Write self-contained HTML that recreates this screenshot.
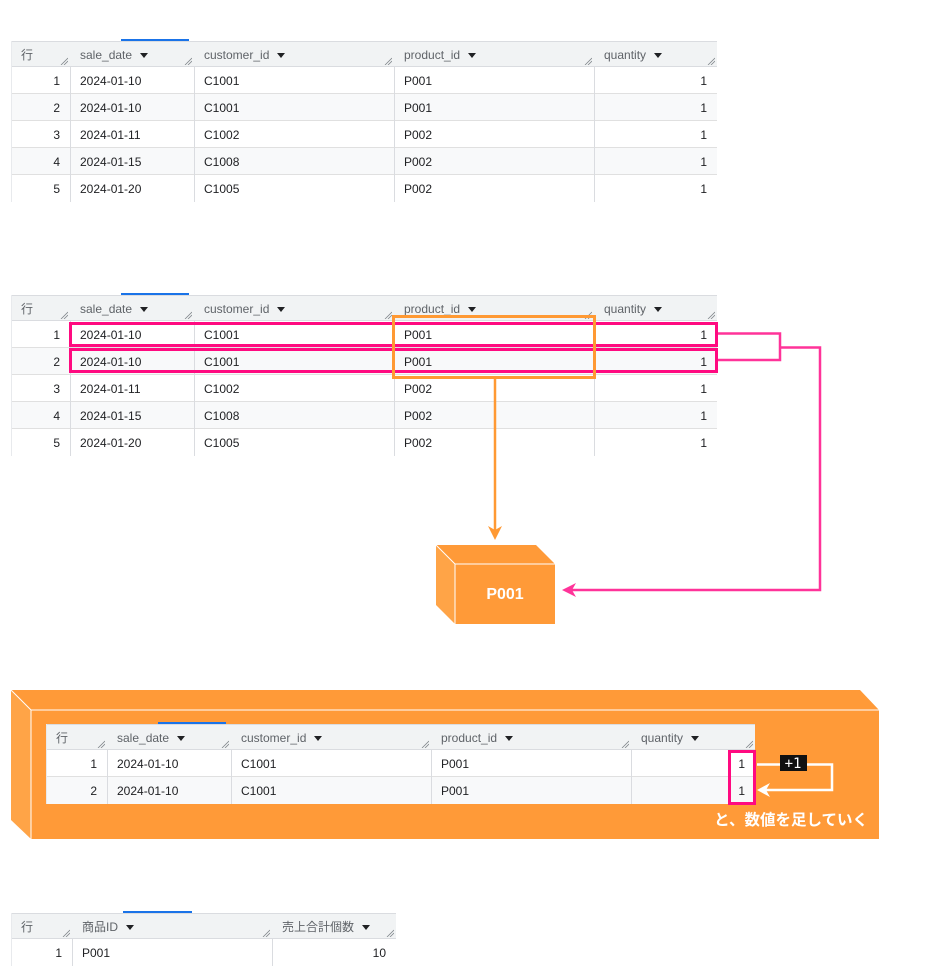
<!DOCTYPE html>
<html><head><meta charset="utf-8">
<style>
body{margin:0;width:931px;height:977px;background:#fff;position:relative;overflow:hidden;font-family:"Liberation Sans","Noto Sans CJK JP",sans-serif;}
.cell{position:absolute;box-sizing:border-box;font-size:12px;color:#202124;line-height:29px;white-space:nowrap;}
.hd{position:absolute;background:#f1f3f4;border-top:1px solid #dadce0;border-bottom:1px solid #dadce0;box-sizing:border-box;}
.hc{position:absolute;font-size:12px;color:#5f6368;line-height:26px;white-space:nowrap;}
.tri{display:inline-block;width:0;height:0;border-left:4px solid transparent;border-right:4px solid transparent;border-top:5px solid #202124;margin-left:8px;vertical-align:middle;}
.grip{position:absolute;width:8px;height:8px;}
.vl{position:absolute;width:1px;background:#dadce0;}
.hl{position:absolute;height:1px;background:#e0e0e0;}
.blue{position:absolute;height:2px;background:#1a73e8;}
svg{position:absolute;left:0;top:0;}
</style></head><body>
<svg width="931" height="977" style="z-index:0">
  <polygon points="11,690 860,690 879,710 31,710" fill="#FF9A38"/>
  <polygon points="11,690 31,710 31,839 11,820" fill="#FFA447"/>
  <rect x="31" y="710" width="848" height="129" fill="#FF9A38"/>
  <line x1="11" y1="690" x2="31" y2="710" stroke="#fff" stroke-width="1"/>
  <line x1="31" y1="710" x2="879" y2="710" stroke="#fff" stroke-width="1"/>
  <line x1="31" y1="710" x2="31" y2="839" stroke="#fff" stroke-width="1"/>
  <polygon points="436,545 536,545 555,564 455,564" fill="#FF9A38"/>
  <polygon points="436,545 455,564 455,624 436,605" fill="#FFA447"/>
  <rect x="455" y="564" width="100" height="60" fill="#FF9A38"/>
  <line x1="436" y1="545" x2="455" y2="564" stroke="#fff"/>
  <line x1="455" y1="564" x2="555" y2="564" stroke="#fff"/>
  <line x1="455" y1="564" x2="455" y2="624" stroke="#fff"/>
  <text x="505" y="599" fill="#fff" font-size="16" font-weight="bold" text-anchor="middle" font-family="Liberation Sans, sans-serif">P001</text>
</svg>
<div id="root"></div>
<svg width="931" height="977" style="z-index:5">
  <rect x="70.5" y="323.5" width="646" height="22" fill="none" stroke="#FF0A80" stroke-width="3"/>
  <rect x="70.5" y="349.5" width="646" height="22" fill="none" stroke="#FF0A80" stroke-width="3"/>
  <rect x="393.5" y="316.5" width="201" height="61" fill="none" stroke="#FF9933" stroke-width="3"/>
  <line x1="495" y1="379" x2="495" y2="530" stroke="#FF9933" stroke-width="2.5"/>
  <polygon points="488,526 495,540 502,526 495,530" fill="#FF9933"/>
  <polyline points="718,333.5 780,333.5 780,360 718,360" fill="none" stroke="#FF3399" stroke-width="2.5"/>
  <polyline points="780,347.5 820,347.5 820,590 570,590" fill="none" stroke="#FF3399" stroke-width="2.5"/>
  <polygon points="562,590 576,583 572,590 576,597" fill="#FF3399"/>
  <rect x="729.5" y="751.5" width="25" height="52" fill="none" stroke="#FF0A80" stroke-width="3"/>
  <polyline points="757,764.5 832,764.5 832,790 764,790" fill="none" stroke="#fff" stroke-width="2.5"/>
  <polygon points="757,790 770,783 766,790 770,797" fill="#fff"/>
  <rect x="780" y="755" width="27" height="16" fill="#111"/>
  <text x="793" y="768" fill="#fff" font-size="14" text-anchor="middle" font-family="DejaVu Sans Mono, monospace">+1</text>
  <text x="868" y="825" fill="#fff" font-size="15.5" font-weight="bold" text-anchor="end" font-family="Noto Sans CJK JP, sans-serif">と、数値を足していく</text>
</svg>
<script>
function grip(x,y){return '<svg class="grip" style="left:'+x+'px;top:'+y+'px;position:absolute" width="8" height="8"><line x1="1" y1="8" x2="8" y2="1" stroke="#80868b" stroke-width="0.8"/><line x1="4" y1="8" x2="8" y2="4" stroke="#80868b" stroke-width="0.8"/></svg>';}
function table(left,top,cols,heads,rows,bluex,bluew,alignRight,bgWhite){
  var h='';var right=cols[cols.length-1];
  var ht=26,rh=27;
  if(bgWhite){h+='<div style="position:absolute;left:'+left+'px;top:'+top+'px;width:'+(right-left)+'px;height:'+(ht+rh*rows.length)+'px;background:#fff"></div>';}
  h+='<div class="blue" style="left:'+bluex+'px;top:'+(top-2)+'px;width:'+bluew+'px"></div>';
  h+='<div class="hd" style="left:'+left+'px;top:'+top+'px;width:'+(right-left)+'px;height:'+ht+'px"></div>';
  var xs=[left].concat(cols);
  for(var i=0;i<heads.length;i++){
    var x=xs[i];
    h+='<div class="hc" style="left:'+(x+10)+'px;top:'+(top+1)+'px">'+heads[i]+(i>0?'<span class="tri"></span>':'')+'</div>';
    h+=grip(xs[i+1]-10,top+ht-10);
  }
  for(var r=0;r<rows.length;r++){
    var y=top+ht+r*rh;
    if(r%2==1)h+='<div style="position:absolute;left:'+left+'px;top:'+y+'px;width:'+(right-left)+'px;height:'+rh+'px;background:#f8f9fa"></div>';
    h+='<div class="hl" style="left:'+left+'px;top:'+(y+rh-1)+'px;width:'+(right-left)+'px;'+(r==rows.length-1?'display:none':'')+'"></div>';
    for(var c=0;c<rows[r].length;c++){
      var x0=xs[c],x1=xs[c+1];
      var st='top:'+y+'px;';
      if(c==0||alignRight[c]) st+='left:'+x0+'px;width:'+(x1-x0-10)+'px;text-align:right;';
      else st+='left:'+(x0+10)+'px;';
      h+='<div class="cell" style="'+st+'">'+rows[r][c]+'</div>';
    }
  }
  var bot=top+ht+rh*rows.length;
  for(var i=1;i<xs.length-1;i++) h+='<div class="vl" style="left:'+xs[i]+'px;top:'+(top+ht)+'px;height:'+(bot-top-ht)+'px"></div>';
  h+='<div class="vl" style="left:'+left+'px;top:'+top+'px;height:'+(bot-top)+'px;background:#e8eaed"></div>';
  return h;
}
var H=['行','sale_date','customer_id','product_id','quantity'];
var R5=[['1','2024-01-10','C1001','P001','1'],['2','2024-01-10','C1001','P001','1'],['3','2024-01-11','C1002','P002','1'],['4','2024-01-15','C1008','P002','1'],['5','2024-01-20','C1005','P002','1']];
var ar=[1,0,0,0,1];
var out='';
out+=table(11,41,[70,194,394,594,717],H,R5,121,68,ar,false);
out+=table(11,295,[70,194,394,594,717],H,R5,121,68,ar,false);
out+=table(46,724,[107,231,431,631,755],H,R5.slice(0,2),158,68,ar,true);
out+=table(11,913,[72,272,396],['行','商品ID','売上合計個数'],[['1','P001','10']],123,69,[1,0,1],false);
document.getElementById('root').innerHTML=out;
</script>
</body></html>
